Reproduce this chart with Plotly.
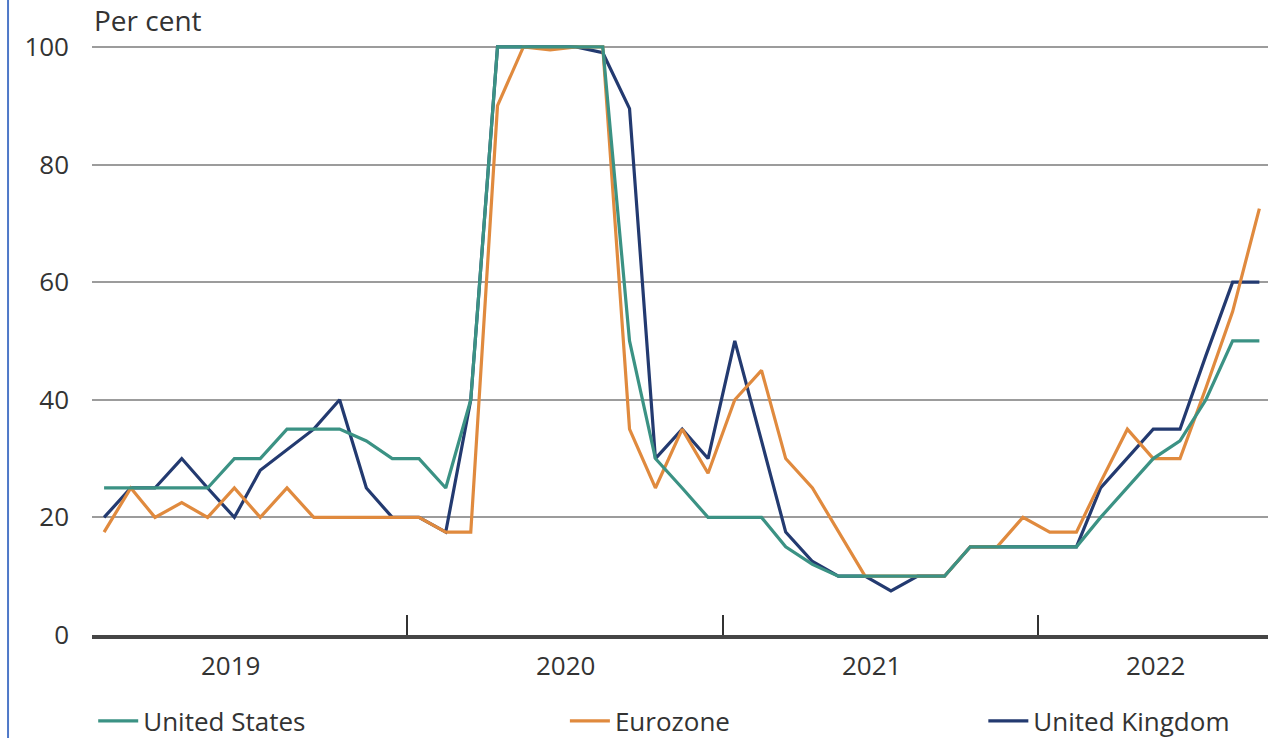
import pandas as pd
import plotly.graph_objects as go

# ---- data (monthly, Jan 2019 - Sep 2022), per cent ----
months = pd.date_range("2019-01-01", "2022-09-01", freq="MS") + pd.Timedelta(days=14)

us = [25, 25, 25, 25, 25, 30, 30, 35, 35, 35, 33, 30,
      30, 25, 40, 100, 100, 100, 100, 100, 50, 30, 25, 20,
      20, 20, 15, 12, 10, 10, 10, 10, 10, 15, 15, 15,
      15, 15, 20, 25, 30, 33, 40, 50, 50]
eurozone = [17.5, 25, 20, 22.5, 20, 25, 20, 25, 20, 20, 20, 20,
            20, 17.5, 17.5, 90, 100, 99.5, 100, 100, 35, 25, 35, 27.5,
            40, 45, 30, 25, 17.5, 10, 10, 10, 10, 15, 15, 20,
            17.5, 17.5, 26, 35, 30, 30, 42, 55, 72.5]
uk = [20, 25, 25, 30, 25, 20, 28, 31.5, 35, 40, 25, 20,
      20, 17.5, 40, 100, 100, 100, 100, 99, 89.5, 30, 35, 30,
      50, 33, 17.5, 12.5, 10, 10, 7.5, 10, 10, 15, 15, 15,
      15, 15, 25, 30, 35, 35, 47.5, 60, 60]

year_labels = ["2019", "2020", "2021", "2022"]
year_label_dates = ["2019-06-10", "2020-07-03", "2021-06-23", "2022-05-18"]
year_boundaries = ["2020-01-01", "2021-01-01", "2022-01-01"]
y_ticks = [0, 20, 40, 60, 80, 100]

C_US = "#3b9284"
C_EZ = "#e08a3e"
C_UK = "#233a70"
FONT = "Open Sans"
TXT = "#333333"
FS = 26

fig = go.Figure()
# drawing order: UK bottom, Eurozone, US on top
fig.add_trace(go.Scatter(x=months, y=uk, mode="lines", name="United Kingdom",
                         line=dict(color=C_UK, width=3.2), legend="legend3"))
fig.add_trace(go.Scatter(x=months, y=eurozone, mode="lines", name="Eurozone",
                         line=dict(color=C_EZ, width=3.2), legend="legend2"))
fig.add_trace(go.Scatter(x=months, y=us, mode="lines", name="United States",
                         line=dict(color=C_US, width=3.2), legend="legend"))

leg_common = dict(orientation="h", xref="container", yref="container",
                  yanchor="middle", y=0.023, xanchor="left",
                  font=dict(family=FONT, size=FS, color=TXT), bgcolor="rgba(0,0,0,0)",
                  itemwidth=40)
fig.update_layout(
    width=1268, height=738,
    margin=dict(l=92, r=0, t=41, b=103, autoexpand=False),
    paper_bgcolor="white", plot_bgcolor="white",
    font=dict(family=FONT, size=FS, color=TXT),
    showlegend=True,
    legend=dict(x=0.0735, **leg_common),
    legend2=dict(x=0.4455, **leg_common),
    legend3=dict(x=0.7755, **leg_common),
    xaxis=dict(type="date", range=["2019-01-01", "2022-09-25"],
               showgrid=False, zeroline=False,
               showline=True, linecolor="#454545", linewidth=3.5,
               tickmode="array", tickvals=year_boundaries,
               ticks="inside", ticklen=20, tickwidth=2, tickcolor="#333333",
               showticklabels=False),
    yaxis=dict(range=[0, 101], tickmode="array", tickvals=y_ticks,
               showgrid=True, gridcolor="#9c9c9c", gridwidth=1.5,
               zeroline=False, showline=False, ticks="",
               ticklabelstandoff=22,
               tickfont=dict(family=FONT, size=FS, color=TXT)),
)

for lab, d in zip(year_labels, year_label_dates):
    fig.add_annotation(x=d, y=-0.0505, xref="x", yref="paper", text=lab, showarrow=False,
                       xanchor="center", yanchor="middle",
                       font=dict(family=FONT, size=FS, color=TXT))

fig.add_annotation(x=0, y=1.0354, xref="paper", yref="paper", text="Per cent", showarrow=False,
                   xanchor="left", yanchor="middle",
                   font=dict(family=FONT, size=28, color=TXT))

# left frame border
fig.add_shape(type="line", xref="paper", yref="paper",
              x0=-0.0714, x1=-0.0714, y0=-0.2, y1=1.1,
              line=dict(color="#4f78c8", width=2))

fig.write_html("out.html", config={"displayModeBar": False},
               post_script="document.body.style.margin='0';")
